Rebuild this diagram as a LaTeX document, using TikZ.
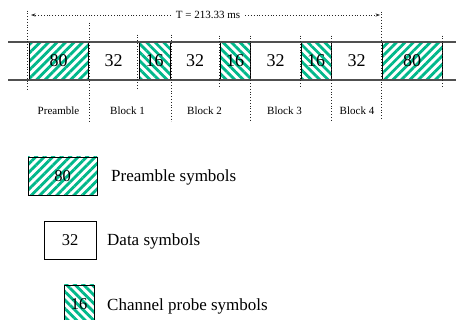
\documentclass[tikz,border=0pt]{standalone}
\usepackage{fontspec}
\setmainfont{Liberation Serif}
\usetikzlibrary{patterns.meta,arrows.meta}
\definecolor{hatch}{RGB}{0,184,138}
\definecolor{stripline}{RGB}{80,80,80}
\tikzset{
  sym/.style={draw=black, line width=0.8pt, inner sep=0pt, minimum height=38pt,
    font=\fontsize{18}{18}\selectfont},
  legsym/.style={sym, font=\fontsize{16.5}{16.5}\selectfont},
  preamb/.style={pattern={Lines[angle=45,distance=6pt,line width=2.8pt]}, pattern color=hatch},
  probe/.style={pattern={Lines[angle=-45,distance=6pt,line width=2.8pt]}, pattern color=hatch},
  dotln/.style={dotted, line width=0.8pt, black!85},
  lbl/.style={font=\fontsize{11}{11}\selectfont, inner sep=0pt},
  legtxt/.style={font=\fontsize{17}{17}\selectfont, anchor=west, inner sep=0pt},
  strip/.style={stripline, line width=1.2pt},
  tip/.style={-{Stealth[length=4.5pt,width=3.2pt]}}
}
\begin{document}
\begin{tikzpicture}[x=1pt,y=-1pt]
\useasboundingbox[fill=white] (0,0) rectangle (456,320);
% main strip
\node[sym,preamb,minimum width=59pt] (p1) at (58.5,61) {80};
\node[sym,minimum width=51pt] (d1) at (113.5,61) {32};
\node[sym,probe,minimum width=31pt] (c1) at (154.5,61) {16};
\node[sym,minimum width=50pt] (d2) at (195,61) {32};
\node[sym,probe,minimum width=30pt] (c2) at (235,61) {16};
\node[sym,minimum width=51pt] (d3) at (275.5,61) {32};
\node[sym,probe,minimum width=30pt] (c3) at (316,61) {16};
\node[sym,minimum width=51pt] (d4) at (356.5,61) {32};
\node[sym,preamb,minimum width=60pt] (p2) at (412,61) {80};
\coordinate (tl) at (8,42); \coordinate (tr) at (456,42);
\coordinate (bl) at (8,80); \coordinate (br) at (456,80);
\draw[strip] (tl) -- (tr);
\draw[strip] (bl) -- (br);
% dotted verticals
\draw[dotln] ([yshift=30pt]p1.north west) -- ([yshift=-8pt]p1.south west);
\draw[dotln] ([yshift=18pt]p1.north east) -- ([yshift=-40pt]p1.south east);
\draw[dotln] ([yshift=6pt]c1.north west) -- ([yshift=-8pt]c1.south west);
\draw[dotln] ([yshift=6pt]c1.north east) -- ([yshift=-40pt]c1.south east);
\draw[dotln] ([yshift=6pt]c2.north west) -- ([yshift=-8pt]c2.south west);
\draw[dotln] ([yshift=6pt]c2.north east) -- ([yshift=-40pt]c2.south east);
\draw[dotln] ([yshift=6pt]c3.north west) -- ([yshift=-8pt]c3.south west);
\draw[dotln] ([yshift=6pt]c3.north east) -- ([yshift=-40pt]c3.south east);
\draw[dotln] ([yshift=30pt]p2.north west) -- ([yshift=-40pt]p2.south west);
\draw[dotln] ([yshift=6pt]p2.north east) -- ([yshift=-8pt]p2.south east);
% period arrow
\node[lbl, inner sep=5pt] (T) at (208,15) {T = 213.33 ms};
\coordinate (al) at (31,15);
\coordinate (ar) at (380,15);
\draw[dotln,tip] (T.west) -- (al);
\draw[dotln,tip] (T.east) -- (ar);
% block labels
\node[lbl] (lp) at (58.5,111) {Preamble};
\node[lbl] (lb1) at (127.5,111) {Block 1};
\node[lbl] (lb2) at (204.5,111) {Block 2};
\node[lbl] (lb3) at (284.5,111) {Block 3};
\node[lbl] (lb4) at (357,111) {Block 4};
% legend
\node[legsym,preamb,minimum width=69pt] (L1) at (62.5,176) {80};
\node[legtxt] (T1) at (111,177) {Preamble symbols};
\node[legsym,minimum width=52pt] (L2) at (70,240) {32};
\node[legtxt] (T2) at (107,241) {Data symbols};
\node[legsym,probe,minimum width=30pt] (L3) at (79,304) {16};
\node[legtxt] (T3) at (107,306) {Channel probe symbols};
\end{tikzpicture}
\end{document}
